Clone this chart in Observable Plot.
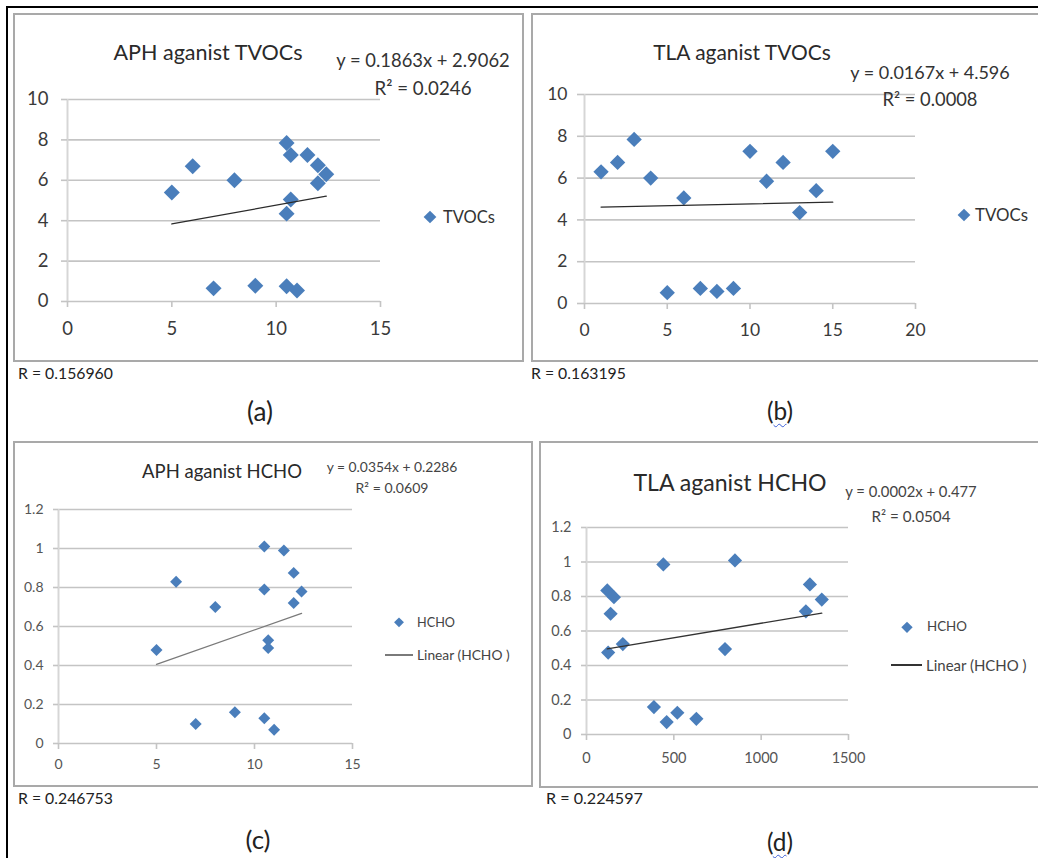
<!DOCTYPE html>
<html>
<head>
<meta charset="utf-8">
<script src="https://cdn.jsdelivr.net/npm/d3@7"></script>
<script src="https://cdn.jsdelivr.net/npm/@observablehq/plot@0.6"></script>
<style>
  html, body { margin: 0; padding: 0; background: #fff; }
  body { width: 1038px; height: 858px; overflow: hidden; position: relative; font-family: Lato, "Liberation Sans", sans-serif; }
  .abs { position: absolute; }
  .box { position: absolute; box-sizing: border-box; border: 2px solid #a9a9a9; }
  .txt { position: absolute; white-space: nowrap; line-height: 1; }
  .dia { position: absolute; background: #4a7ebb; transform: translate(-50%, -50%) rotate(45deg); }
  svg { position: absolute; overflow: visible; }
</style>
</head>
<body>
<div id="page"></div>
<script>
// ---------------- data ----------------
const aph = [5, 6, 7, 8, 9, 10.5, 10.5, 10.5, 10.7, 10.7, 11, 11.5, 12, 12, 12.4];
const tvocsByAph = [5.4, 6.7, 0.65, 6.0, 0.78, 7.85, 4.35, 0.75, 7.25, 5.05, 0.55, 7.25, 6.75, 5.85, 6.3];
const hchoByAph = [0.48, 0.83, 0.10, 0.70, 0.16, 1.01, 0.79, 0.13, 0.53, 0.49, 0.07, 0.99, 0.875, 0.72, 0.78];

const tla = [1, 2, 3, 4, 5, 6, 7, 8, 9, 10, 11, 12, 13, 14, 15];
const tvocsByTla = [6.3, 6.75, 7.85, 6.0, 0.52, 5.05, 0.72, 0.58, 0.72, 7.28, 5.85, 6.75, 4.35, 5.4, 7.28];

const tlaArea = [119, 157, 138, 124, 208, 440, 850, 386, 459, 520, 629, 793, 1256, 1279, 1347];
const hchoByTla = [0.835, 0.796, 0.70, 0.475, 0.524, 0.986, 1.009, 0.159, 0.072, 0.126, 0.091, 0.495, 0.714, 0.87, 0.782];

const titles = ["APH aganist TVOCs", "TLA aganist TVOCs", "APH aganist HCHO", "TLA aganist HCHO"];
const equations = ["y = 0.1863x + 2.9062", "y = 0.0167x + 4.596", "y = 0.0354x + 0.2286", "y = 0.0002x + 0.477"];
const rSquared = ["R² = 0.0246", "R² = 0.0008", "R² = 0.0609", "R² = 0.0504"];
const rValues = ["R = 0.156960", "R = 0.163195", "R = 0.246753", "R = 0.224597"];
const captions = ["a", "b", "c", "d"];
const trendSlope = [0.1863, 0.0167, 0.0354, 0.000168];
const trendIntercept = [2.9062, 4.596, 0.2286, 0.477];
const seriesNames = ["TVOCs", "TVOCs", "HCHO", "HCHO"];
const linearName = "Linear (HCHO )";

const xTicksA = [0, 5, 10, 15];
const xTicksB = [0, 5, 10, 15, 20];
const xTicksD = [0, 500, 1000, 1500];
const yTicksTVOC = [0, 2, 4, 6, 8, 10];
const yTicksHCHO = [0, 0.2, 0.4, 0.6, 0.8, 1, 1.2];

// ---------------- helpers ----------------
const page = document.getElementById("page");
const ctx = document.createElement("canvas").getContext("2d");
const FONT = "Lato";
const plain = d => String(d);
function fitSize(text, w, family = FONT) {
  ctx.font = `100px ${family}`;
  return 100 * w / ctx.measureText(text).width;
}
function addText(html, plainText, {x, y, w, anchor = "middle", color = "#333"}) {
  const d = document.createElement("div");
  d.className = "txt";
  d.innerHTML = html;
  const fs = fitSize(plainText, w);
  d.style.fontSize = fs + "px";
  d.style.color = color;
  d.style.left = x + "px";
  d.style.top = y + "px";
  d.style.transform = anchor === "middle" ? "translate(-50%, -50%)" : "translate(0, -50%)";
  page.appendChild(d);
}
function addBox(l, t, w, h) {
  const d = document.createElement("div");
  d.className = "box";
  Object.assign(d.style, {left: l + "px", top: t + "px", width: w + "px", height: h + "px"});
  page.appendChild(d);
}
function addDiamond(cx, cy, s) {
  const d = document.createElement("div");
  d.className = "dia";
  Object.assign(d.style, {left: cx + "px", top: cy + "px", width: s + "px", height: s + "px"});
  page.appendChild(d);
}
function addLine(x1, x2, y, color) {
  const d = document.createElement("div");
  d.className = "abs";
  Object.assign(d.style, {left: x1 + "px", top: (y - 0.6) + "px", width: (x2 - x1) + "px", height: "1.3px", background: color});
  page.appendChild(d);
}

function panel(i, xs, ys, o) {
  const pts = xs.map((x, k) => ({x, y: ys[k]}));
  const [x0, x1] = d3.extent(xs);
  const trend = [x0, x1].map(x => ({x, y: trendSlope[i] * x + trendIntercept[i]}));
  const chart = Plot.plot({
    width: o.width, height: o.height,
    marginLeft: o.mL, marginRight: o.mR, marginTop: o.mT, marginBottom: o.mB,
    x: {domain: o.xDomain},
    y: {domain: o.yDomain},
    style: {fontFamily: FONT, background: "transparent", overflow: "visible"},
    marks: [
      Plot.gridY(o.yTicks, {stroke: "#c4c4c4", strokeOpacity: 1, strokeWidth: 1.6}),
      Plot.ruleX([0], {stroke: "#d6d6d6", strokeWidth: 2}),
      Plot.axisY(o.yTicks, {tickSize: o.yTick, tickPadding: o.yPad, tickFormat: plain, stroke: "#c4c4c4", strokeWidth: 1.6, fill: o.tickColor, fontSize: o.fs, label: null}),
      Plot.axisX(o.xTicks, {tickSize: 6, tickPadding: o.xPad, tickFormat: plain, stroke: "#c4c4c4", strokeWidth: 1.6, fill: o.tickColor, fontSize: o.fs, label: null}),
      Plot.dot(pts, {x: "x", y: "y", symbol: "diamond2", r: o.r, fill: "#4a7ebb", stroke: "none"}),
      Plot.line(trend, {x: "x", y: "y", stroke: o.lineColor, strokeWidth: 1.3})
    ]
  });
  chart.style.left = o.left + "px";
  chart.style.top = o.top + "px";
  page.appendChild(chart);
}

// ---------------- frame ----------------
const frameTop = document.createElement("div");
frameTop.className = "abs";
Object.assign(frameTop.style, {left: "6px", top: "6px", width: "1040px", height: "2px", background: "#000"});
page.appendChild(frameTop);
const frameLeft = document.createElement("div");
frameLeft.className = "abs";
Object.assign(frameLeft.style, {left: "6px", top: "6px", width: "2px", height: "860px", background: "#000"});
page.appendChild(frameLeft);

// ---------------- boxes ----------------
addBox(13, 13, 511, 349);
addBox(531, 13, 520, 349);
addBox(13, 441, 520, 346);
addBox(539, 441, 512, 347);

// ---------------- panels ----------------
panel(0, aph, tvocsByAph, {
  left: 13, top: 13, width: 511, height: 349, mL: 54, mR: 144, mT: 86, mB: 61,
  xDomain: [0, 15], yDomain: [0, 10], xTicks: xTicksA, yTicks: yTicksTVOC,
  yTick: 6, yPad: 13, xPad: 14, fs: 18.5, tickColor: "#3a3a3a", r: 7.2, lineColor: "#2b2b2b"
});
panel(1, tla, tvocsByTla, {
  left: 531, top: 13, width: 507, height: 349, mL: 53, mR: 123, mT: 81, mB: 59,
  xDomain: [0, 20], yDomain: [0, 10], xTicks: xTicksB, yTicks: yTicksTVOC,
  yTick: 7, yPad: 10, xPad: 14, fs: 17.5, tickColor: "#3a3a3a", r: 6.9, lineColor: "#2b2b2b"
});
panel(2, aph, hchoByAph, {
  left: 13, top: 441, width: 520, height: 346, mL: 45, mR: 181, mT: 68, mB: 44,
  xDomain: [0, 15], yDomain: [0, 1.2], xTicks: xTicksA, yTicks: yTicksHCHO,
  yTick: 5, yPad: 10, xPad: 10, fs: 14, tickColor: "#555", r: 5.4, lineColor: "#7a7a7a"
});
panel(3, tlaArea, hchoByTla, {
  left: 539, top: 441, width: 499, height: 347, mL: 47, mR: 190, mT: 86, mB: 54,
  xDomain: [0, 1500], yDomain: [0, 1.2], xTicks: xTicksD, yTicks: yTicksHCHO,
  yTick: 5, yPad: 10, xPad: 12, fs: 14.5, tickColor: "#555", r: 6.4, lineColor: "#333"
});

// ---------------- texts ----------------
addText(titles[0], titles[0], {x: 208, y: 53, w: 190, color: "#2a2a2a"});
addText(titles[1], titles[1], {x: 742, y: 52, w: 179, color: "#2a2a2a"});
addText(titles[2], titles[2], {x: 222, y: 471, w: 160, color: "#2a2a2a"});
addText(titles[3], titles[3], {x: 730, y: 483, w: 194, color: "#2a2a2a"});
addText(equations[0], equations[0], {x: 423, y: 60, w: 174, color: "#333"});
addText(rSquared[0], rSquared[0], {x: 423, y: 88, w: 97, color: "#333"});
addText(equations[1], equations[1], {x: 930, y: 72, w: 160, color: "#333"});
addText(rSquared[1], rSquared[1], {x: 930, y: 99, w: 95, color: "#333"});
addText(equations[2], equations[2], {x: 392, y: 467, w: 131, color: "#444"});
addText(rSquared[2], rSquared[2], {x: 392, y: 488, w: 73, color: "#444"});
addText(equations[3], equations[3], {x: 911, y: 491, w: 132, color: "#444"});
addText(rSquared[3], rSquared[3], {x: 911, y: 517, w: 79, color: "#444"});
addDiamond(430, 217, 9);
addText(seriesNames[0], seriesNames[0], {x: 443, y: 217, w: 52, anchor: "start", color: "#333"});
addDiamond(964, 215, 9);
addText(seriesNames[1], seriesNames[1], {x: 975, y: 215, w: 53, anchor: "start", color: "#333"});
addDiamond(399, 622, 6.5);
addText(seriesNames[2], seriesNames[2], {x: 417, y: 622, w: 38, anchor: "start", color: "#444"});
addLine(385, 413, 655, "#7a7a7a");
addText(linearName, linearName, {x: 417, y: 655, w: 93, anchor: "start", color: "#444"});
addDiamond(907, 627, 7.5);
addText(seriesNames[3], seriesNames[3], {x: 927, y: 627, w: 40, anchor: "start", color: "#444"});
addLine(891, 922, 665, "#333");
addText(linearName, linearName, {x: 926, y: 665, w: 101, anchor: "start", color: "#444"});
addText(rValues[0], rValues[0], {x: 18, y: 373, w: 95, anchor: "start", color: "#222"});
addText(rValues[1], rValues[1], {x: 531, y: 373, w: 95, anchor: "start", color: "#222"});
addText(rValues[2], rValues[2], {x: 18, y: 798, w: 95, anchor: "start", color: "#222"});
addText(rValues[3], rValues[3], {x: 546, y: 798, w: 97, anchor: "start", color: "#222"});
const squig = s => `<span style="text-decoration: underline wavy #3d5fd6; text-decoration-thickness: 1px; text-underline-offset: 3px">${s}</span>`;
addText(`(${captions[0]})`, `(${captions[0]})`, {x: 260, y: 411, w: 26, color: "#222"});
addText(`(${squig(captions[1])})`, `(${captions[1]})`, {x: 780, y: 411, w: 26, color: "#222"});
addText(`(${captions[2]})`, `(${captions[2]})`, {x: 258, y: 840, w: 25, color: "#222"});
addText(`(${squig(captions[3])})`, `(${captions[3]})`, {x: 780, y: 842, w: 26, color: "#222"});
</script>
</body>
</html>
